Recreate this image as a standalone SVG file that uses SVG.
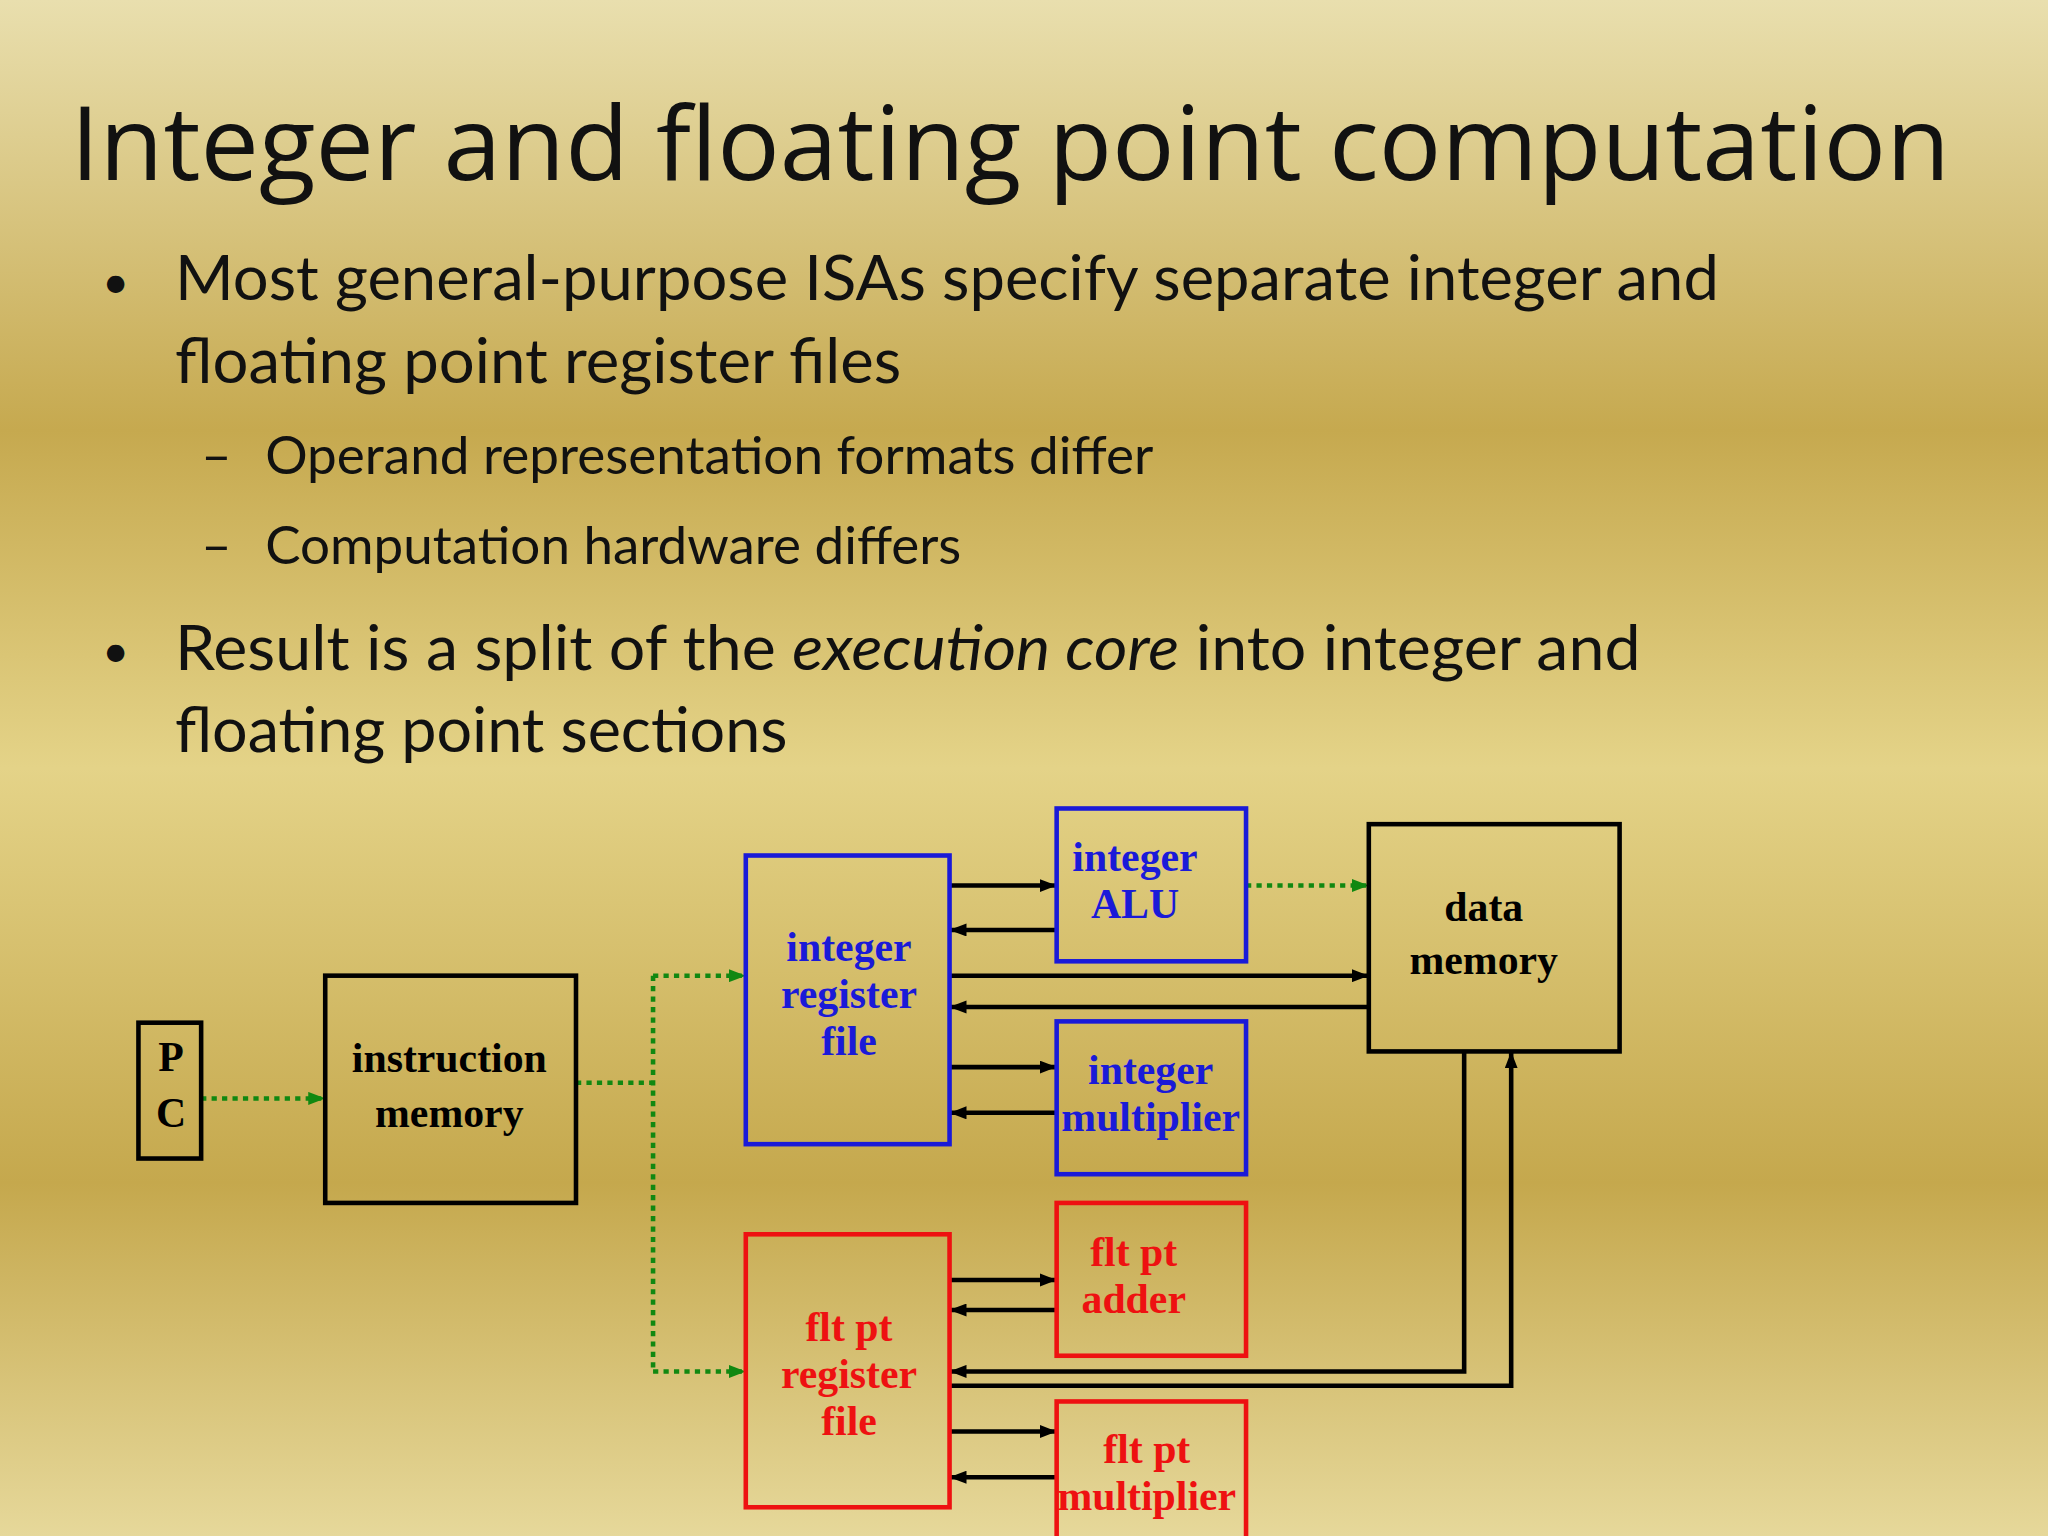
<svg xmlns="http://www.w3.org/2000/svg" width="2048" height="1536" viewBox="0 0 2048 1536">
<defs>
<linearGradient id="bg" x1="0" y1="0" x2="0" y2="1">
<stop offset="0" stop-color="#e9dfae"/>
<stop offset="0.28" stop-color="#c6a94f"/>
<stop offset="0.5" stop-color="#e4d388"/>
<stop offset="0.77" stop-color="#c5a84d"/>
<stop offset="1" stop-color="#e6d89a"/>
</linearGradient>
<marker id="ah" markerWidth="13" markerHeight="10" refX="12" refY="5" orient="auto" markerUnits="userSpaceOnUse"><path d="M0,0 L13,5 L0,10 z" fill="#000"/></marker>
<marker id="ag" markerWidth="13" markerHeight="10" refX="12" refY="5" orient="auto" markerUnits="userSpaceOnUse"><path d="M0,0 L13,5 L0,10 z" fill="#118811"/></marker>
<style>
.t{font-family:"Open Sans","Noto Sans",sans-serif;fill:#111}
.b{font-family:Lato,"Open Sans",sans-serif;fill:#111}
.d{font-family:"Liberation Serif",serif;font-weight:bold;font-size:32px;text-anchor:middle}
.bx{fill:none;stroke-width:3.5}
.kA{stroke:#000;stroke-width:3.5;fill:none;marker-end:url(#ah)}
.g{stroke:#118811;stroke-width:3.5;fill:none;stroke-dasharray:4 4}
.gA{stroke:#118811;stroke-width:3.5;fill:none;stroke-dasharray:4 4;marker-end:url(#ag)}
</style>
</defs>
<rect width="2048" height="1536" fill="url(#bg)"/>
<g transform="scale(1.30612)">
<text class="t" x="54" y="138" font-size="78" textLength="1439" lengthAdjust="spacingAndGlyphs">Integer and floating point computation</text>
<g class="b" font-size="48">
<text x="78" y="228" font-size="36">•</text><text x="134" y="230" textLength="1182" lengthAdjust="spacingAndGlyphs">Most general-purpose ISAs specify separate integer and</text>
<text x="134" y="293" textLength="556" lengthAdjust="spacingAndGlyphs">floating point register files</text>
<text x="78" y="511" font-size="36">•</text><text x="134" y="513" textLength="1122" lengthAdjust="spacingAndGlyphs">Result is a split of the <tspan font-style="italic">execution core</tspan> into integer and</text>
<text x="134" y="576" textLength="469" lengthAdjust="spacingAndGlyphs">floating point sections</text>
</g>
<g class="b" font-size="40">
<text x="154" y="363">–</text><text x="203" y="363" textLength="680" lengthAdjust="spacingAndGlyphs">Operand representation formats differ</text>
<text x="154" y="432">–</text><text x="203" y="432" textLength="533" lengthAdjust="spacingAndGlyphs">Computation hardware differs</text>
</g>
<g id="connectors">
<path class="gA" d="M154,841 H248"/>
<path class="g" d="M441,829 H500 M500,747 V1050"/>
<path class="gA" d="M500,747 H570"/>
<path class="gA" d="M500,1050 H570"/>
<path class="gA" d="M954,678 H1047"/>
<path class="kA" d="M727,678 H808"/>
<path class="kA" d="M809,712 H728"/>
<path class="kA" d="M727,747 H1047"/>
<path class="kA" d="M1048,771 H728"/>
<path class="kA" d="M727,817 H808"/>
<path class="kA" d="M809,852 H728"/>
<path class="kA" d="M727,980 H808"/>
<path class="kA" d="M809,1003 H728"/>
<path class="kA" d="M727,1096 H808"/>
<path class="kA" d="M809,1131 H728"/>
<path class="kA" d="M1121,805 V1050 H728"/>
<path class="kA" d="M727,1061 H1157 V806"/>
</g>
<g id="pc"><rect class="bx" stroke="#000" x="106" y="783" width="48" height="104"/><text class="d" x="131" y="820">P</text><text class="d" x="131" y="863">C</text></g>
<g id="imem"><rect class="bx" stroke="#000" x="249" y="747" width="192" height="174"/><text class="d" x="344" y="821">instruction</text><text class="d" x="344" y="863">memory</text></g>
<g id="irf"><rect class="bx" stroke="#1a1ad8" x="571" y="655" width="156" height="221"/><g fill="#1a1ad8"><text class="d" x="650" y="736">integer</text><text class="d" x="650" y="772">register</text><text class="d" x="650" y="808">file</text></g></g>
<g id="ialu"><rect class="bx" stroke="#1a1ad8" x="809" y="619" width="145" height="117"/><g fill="#1a1ad8"><text class="d" x="869" y="667">integer</text><text class="d" x="869" y="703">ALU</text></g></g>
<g id="imul"><rect class="bx" stroke="#1a1ad8" x="809" y="782" width="145" height="117"/><g fill="#1a1ad8"><text class="d" x="881" y="830">integer</text><text class="d" x="881" y="866">multiplier</text></g></g>
<g id="dmem"><rect class="bx" stroke="#000" x="1048" y="631" width="192" height="174"/><text class="d" x="1136" y="705">data</text><text class="d" x="1136" y="746">memory</text></g>
<g id="frf"><rect class="bx" stroke="#ee1111" x="571" y="945" width="156" height="209"/><g fill="#ee1111"><text class="d" x="650" y="1027">flt pt</text><text class="d" x="650" y="1063">register</text><text class="d" x="650" y="1099">file</text></g></g>
<g id="fadd"><rect class="bx" stroke="#ee1111" x="809" y="921" width="145" height="117"/><g fill="#ee1111"><text class="d" x="868" y="969">flt pt</text><text class="d" x="868" y="1005">adder</text></g></g>
<g id="fmul"><rect class="bx" stroke="#ee1111" x="809" y="1073" width="145" height="117"/><g fill="#ee1111"><text class="d" x="878" y="1120">flt pt</text><text class="d" x="878" y="1156">multiplier</text></g></g>
</g>
</svg>
